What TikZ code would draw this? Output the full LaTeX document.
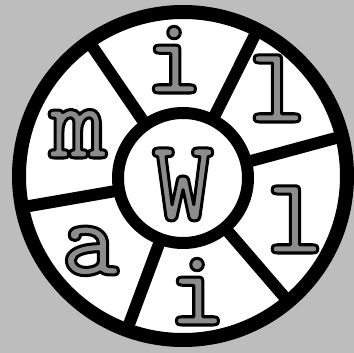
\documentclass[tikz,border=0pt]{standalone}
\usepackage{fontspec}
\definecolor{paper}{gray}{0.74}
\definecolor{ink}{gray}{0.55}
\newcommand{\inked}[1]{\special{pdf:code q 2 Tr 3 w 0 G 1 j}#1\special{pdf:code Q}}

\begin{document}
\begin{tikzpicture}[x=1pt, y=-1pt,
  ring/.style={circle, draw=black, fill=white, inner sep=0pt, outer sep=0pt},
  spoke/.style={line width=12pt, black},
  letter/.style={anchor=base, inner sep=0pt, text=ink, font=\ttfamily\bfseries\fontsize{110}{110}\selectfont},
]

% === Paper ===
\fill[paper] (0,0) rectangle (354,353);
\useasboundingbox (0,0) rectangle (354,353);

% === Wheel ===
\node[ring, line width=14pt, minimum size=328pt] (rim) at (183,176) {};
\node[ring, line width=12pt, minimum size=130pt] (hub) at (183,178) {};

\foreach \ang in {125,63,14,310,250,191}
  \draw[spoke] (hub.\ang) -- (rim.\ang);

% === Letters ===
\node[letter] (top) at (174,93) {\inked{i}};
\node[letter] (upright) at (277,122) {\inked{l}};
\node[letter] (lowright) at (295,253) {\inked{l}};
\node[letter] (bottom) at (197,325) {\inked{i}};
\node[letter] (lowleft) at (90,275) {\inked{a}};
\node[letter] (upleft) at (78,158) {\inked{m}};
\node[letter, font=\ttfamily\bfseries\fontsize{118}{118}\selectfont] (centre) at (183,220) {\inked{W}};

\end{tikzpicture}
\end{document}
